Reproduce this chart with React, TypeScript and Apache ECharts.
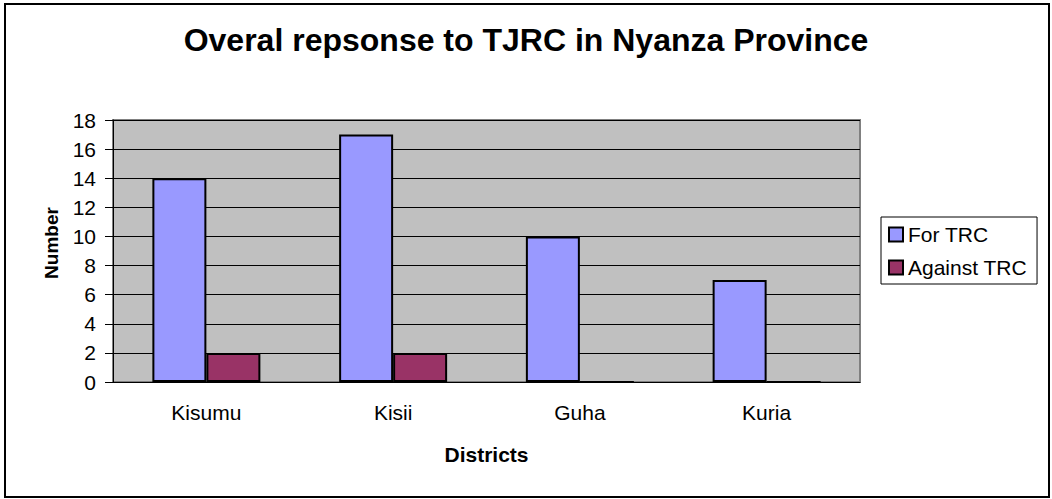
import React, { useEffect, useRef } from "react";
import * as echarts from "echarts";

const categories = ["Kisumu", "Kisii", "Guha", "Kuria"];
const forTRC = [14, 17, 10, 7];
const againstTRC = [2, 2, 0, 0];
const seriesNames = ["For TRC", "Against TRC"];
const titleText = "Overal repsonse to TJRC in Nyanza Province";
const xAxisName = "Districts";
const yAxisName = "Number";

const FONT = "'Liberation Sans', Arial, sans-serif";

export default function App() {
  const ref = useRef<HTMLDivElement>(null);
  useEffect(() => {
    if (!ref.current) return;
    const chart = echarts.init(ref.current, null, { renderer: "svg" });
    chart.setOption({
      animation: false,
      backgroundColor: "#ffffff",
      title: {
        text: titleText,
        left: "center",
        top: 19,
        textStyle: { fontFamily: FONT, fontSize: 32, fontWeight: "bold", color: "#000" },
      },
      legend: {
        orient: "vertical",
        left: 881,
        top: 217,
        width: 161,
        padding: [7, 10, 6, 7],
        itemGap: 12,
        itemWidth: 14,
        itemHeight: 14,
        icon: "rect",
        borderColor: "#000",
        borderWidth: 1,
        backgroundColor: "#fff",
        textStyle: { fontFamily: FONT, fontSize: 21, color: "#000" },
        data: seriesNames,
      },
      grid: {
        left: 113,
        top: 120,
        right: 192,
        bottom: 117,
        show: true,
        backgroundColor: "#C0C0C0",
        borderColor: "#808080",
        borderWidth: 2,
      },
      xAxis: {
        type: "category",
        data: categories,
        name: xAxisName,
        nameLocation: "middle",
        nameGap: 62,
        nameTextStyle: { fontFamily: FONT, fontSize: 21, fontWeight: "bold", color: "#000" },
        axisLine: { lineStyle: { color: "#000", width: 1 } },
        axisTick: { length: 7, lineStyle: { color: "#000" } },
        axisLabel: { fontFamily: FONT, fontSize: 21, color: "#000", margin: 20 },
      },
      yAxis: {
        type: "value",
        min: 0,
        max: 18,
        interval: 2,
        axisLine: { show: true, lineStyle: { color: "#000", width: 1 } },
        axisTick: { show: true, length: 8, lineStyle: { color: "#000" } },
        axisLabel: { fontFamily: FONT, fontSize: 21, color: "#000", margin: 17 },
        splitLine: { show: true, lineStyle: { color: "#000", width: 1 } },
      },
      graphic: [
        {
          type: "text",
          x: 51,
          y: 243,
          rotation: Math.PI / 2,
          style: {
            text: yAxisName,
            font: `bold 19px ${FONT}`,
            fill: "#000",
            align: "center",
            verticalAlign: "middle",
          },
        },
        {
          type: "rect",
          shape: { x: 5, y: 4, width: 1044, height: 493 },
          style: { fill: "none", stroke: "#000", lineWidth: 2 },
          z: 100,
        },
      ],
      series: [
        {
          name: seriesNames[0],
          type: "bar",
          data: forTRC,
          barWidth: 54,
          barGap: "0%",
          itemStyle: { color: "#9999FF", borderColor: "#000", borderWidth: 2 },
        },
        {
          name: seriesNames[1],
          type: "bar",
          data: againstTRC,
          barWidth: 54,
          barGap: "0%",
          itemStyle: { color: "#993366", borderColor: "#000", borderWidth: 2 },
        },
      ],
    });
    return () => chart.dispose();
  }, []);
  return (
    <div
      ref={ref}
      style={{ position: "fixed", left: 0, top: 0, width: 1052, height: 499 }}
    />
  );
}
